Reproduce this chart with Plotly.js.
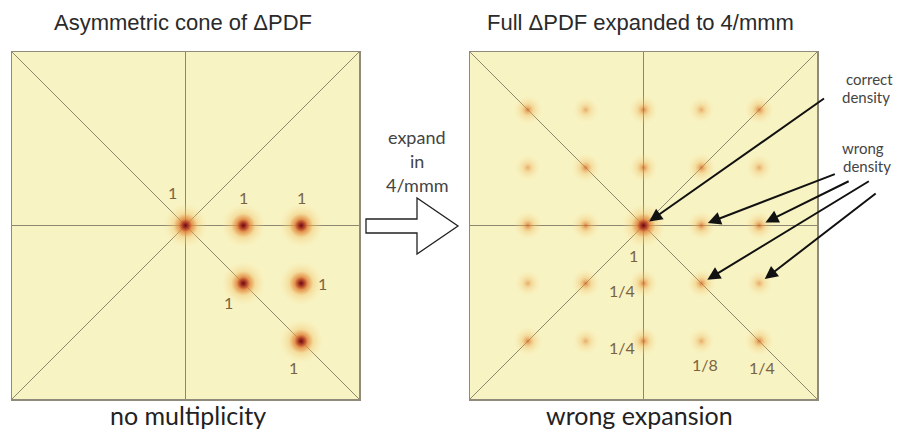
<!DOCTYPE html>
<html><head><meta charset="utf-8">
<script src="https://cdn.plot.ly/plotly-3.0.1.min.js"></script>
<style>body{margin:0;background:#fff}#chart{width:899px;height:440px}</style>
</head><body><div id="chart"></div>
<script>
// ---------- data ----------
// Left panel: asymmetric cone of ΔPDF (peak positions in grid units, weights)
const coneX = [0, 1, 2, 1, 2, 2];
const coneY = [0, 0, 0, -1, -1, -2];
const coneW = [1, 1, 1, 1, 1, 1];
const coneLabels = ['1', '1', '1', '1', '1', '1'];

// Right panel: full ΔPDF expanded to 4/mmm
const fullX = [-2, -1, 0, 1, 2, -2, -1, 0, 1, 2, -2, -1, 0, 1, 2, -2, -1, 0, 1, 2, -2, -1, 0, 1, 2];
const fullY = [2, 2, 2, 2, 2, 1, 1, 1, 1, 1, 0, 0, 0, 0, 0, -1, -1, -1, -1, -1, -2, -2, -2, -2, -2];
const fullW = [0.25, 0.125, 0.25, 0.125, 0.25,
               0.125, 0.25, 0.25, 0.25, 0.125,
               0.25, 0.25, 1, 0.25, 0.25,
               0.125, 0.25, 0.25, 0.25, 0.125,
               0.25, 0.125, 0.25, 0.125, 0.25];
const fullLabelX = [0, 0, 0, 1, 2];
const fullLabelY = [0, -1, -2, -2, -2];
const fullLabels = ['1', '1/4', '1/4', '1/8', '1/4'];

// pointer targets
const correctX = [0], correctY = [0];
const wrongX = [1, 2, 1, 2], wrongY = [0, 0, -1, -1];

// mirror lines (panel diagonals)
const diagX = [-3, 3, null, -3, 3];
const diagY = [3, -3, null, -3, 3];

// ---------- styling ----------
const W = 899, H = 440;
const lineCol = '#8d8670';
const txtCol = '#7a6342';
const px = x => x / W, py = y => 1 - y / H;

// radial gradient: gradient.color = centre colour, marker.color = edge colour
function layer(xs, ys, ws, xa, ya, sizeFn, opFn, centre, edge) {
  return { type: 'scatter', mode: 'markers', x: xs, y: ys, xaxis: xa, yaxis: ya, hoverinfo: 'skip',
    marker: { size: ws.map(sizeFn), opacity: ws.map(opFn),
      color: ws.map(() => edge), line: { width: 0 },
      gradient: { type: ws.map(() => 'radial'), color: ws.map(() => centre) } } };
}
function blobTraces(xs, ys, ws, xa, ya) {
  return [
    layer(xs, ys, ws, xa, ya, w => 24 + 20 * w, w => Math.min(1, 0.35 + 1.3 * w),
      'rgba(232,150,55,0.95)', 'rgba(245,225,150,0)'),
    layer(xs, ys, ws, xa, ya, w => 8 + 16 * w, w => Math.min(1, 1.2 * w),
      'rgba(200,75,35,1)', 'rgba(225,120,45,0)'),
    layer(xs, ys, ws, xa, ya, w => 4 + 9 * w, w => Math.pow(w, 1.5),
      'rgb(105,10,25)', 'rgba(170,40,30,0)')
  ];
}

const diagStyle = { color: lineCol, width: 1 };
const data = [
  { type: 'scatter', mode: 'lines', x: diagX, y: diagY, xaxis: 'x', yaxis: 'y', line: diagStyle, hoverinfo: 'skip' },
  { type: 'scatter', mode: 'lines', x: diagX, y: diagY, xaxis: 'x2', yaxis: 'y2', line: diagStyle, hoverinfo: 'skip' },
  ...blobTraces(coneX, coneY, coneW, 'x', 'y'),
  ...blobTraces(fullX, fullY, fullW, 'x2', 'y2')
];

const axBase = { range: [-3, 3], showgrid: false, showticklabels: false, ticks: '',
  zeroline: true, zerolinecolor: lineCol, zerolinewidth: 1,
  showline: true, mirror: true, linecolor: '#8f8a7a', linewidth: 1.5, fixedrange: true };
const yDom = [1 - 399 / H, 1 - 52 / H];

const ann = [];
const labFont = { family: 'Lato, "Open Sans", sans-serif', size: 16, color: txtCol };
const coneShift = [[-13, 33], [0, 28], [0, 28], [-15, -19], [21, 0], [-8, -26]];
coneLabels.forEach((t, i) => ann.push({ xref: 'x', yref: 'y', x: coneX[i], y: coneY[i], text: t,
  showarrow: false, xshift: coneShift[i][0], yshift: coneShift[i][1], font: labFont }));
const fullShift = [[-10, -30], [-22, -7], [-22, -6], [4, -23], [3, -26]];
fullLabels.forEach((t, i) => ann.push({ xref: 'x2', yref: 'y2', x: fullLabelX[i], y: fullLabelY[i], text: t,
  showarrow: false, xshift: fullShift[i][0], yshift: fullShift[i][1], font: labFont }));

// pointer arrows
const arrowBase = { xref: 'x2', yref: 'y2', text: '', showarrow: true, arrowhead: 2, arrowsize: 1.3,
  arrowwidth: 2, arrowcolor: '#111', standoff: 7 };
const correctTail = [[182, -128]];
correctX.forEach((x, i) => ann.push(Object.assign({}, arrowBase, { x: x, y: correctY[i], ax: correctTail[i][0], ay: correctTail[i][1] })));
const wrongTail = [[135, -52], [91, -45], [169, -103], [118, -91]];
wrongX.forEach((x, i) => ann.push(Object.assign({}, arrowBase, { x: x, y: wrongY[i], ax: wrongTail[i][0], ay: wrongTail[i][1] })));

// texts
const titleFont = { family: '"Liberation Sans", Arial, sans-serif', size: 22, color: '#2a2a2a' };
const bottomFont = { family: 'Lato, "Open Sans", sans-serif', size: 25, color: '#222' };
const noteFont = { family: 'Lato, "Open Sans", sans-serif', size: 15, color: '#444' };
const midFont = { family: 'Lato, "Open Sans", sans-serif', size: 18, color: '#444' };
function txt(x, y, t, f) { ann.push({ xref: 'paper', yref: 'paper', x: px(x), y: py(y), text: t, showarrow: false, xanchor: 'center', yanchor: 'middle', font: f }); }
txt(183, 23, 'Asymmetric cone of ΔPDF', titleFont);
txt(640, 23, 'Full ΔPDF expanded to 4/mmm', titleFont);
txt(188, 415, 'no multiplicity', bottomFont);
txt(639, 415, 'wrong expansion', bottomFont);
txt(417, 137, 'expand', midFont);
txt(417, 161, 'in', midFont);
txt(417, 185, '4/mmm', midFont);
txt(869, 79, 'correct', noteFont);
txt(866, 97, 'density', noteFont);
txt(863, 148, 'wrong', noteFont);
txt(867, 166, 'density', noteFont);

// hollow block arrow
const big = [[366, 219], [417, 219], [417, 198], [458, 226], [417, 254], [417, 233], [366, 233]];
const bigPath = 'M ' + big.map(p => px(p[0]).toFixed(5) + ',' + py(p[1]).toFixed(5)).join(' L ') + ' Z';

const layout = {
  width: W, height: H, margin: { l: 0, r: 0, t: 0, b: 0 },
  paper_bgcolor: '#ffffff', plot_bgcolor: '#f8f3c3', showlegend: false,
  xaxis: Object.assign({}, axBase, { domain: [12 / W, 359 / W], anchor: 'y' }),
  yaxis: Object.assign({}, axBase, { domain: yDom, anchor: 'x' }),
  xaxis2: Object.assign({}, axBase, { domain: [470 / W, 817 / W], anchor: 'y2' }),
  yaxis2: Object.assign({}, axBase, { domain: yDom, anchor: 'x2' }),
  annotations: ann,
  shapes: [{ type: 'path', xref: 'paper', yref: 'paper', path: bigPath,
    fillcolor: '#ffffff', line: { color: '#222', width: 1.3 } }]
};

Plotly.newPlot('chart', data, layout, { staticPlot: true, displayModeBar: false });
</script>
</body></html>
